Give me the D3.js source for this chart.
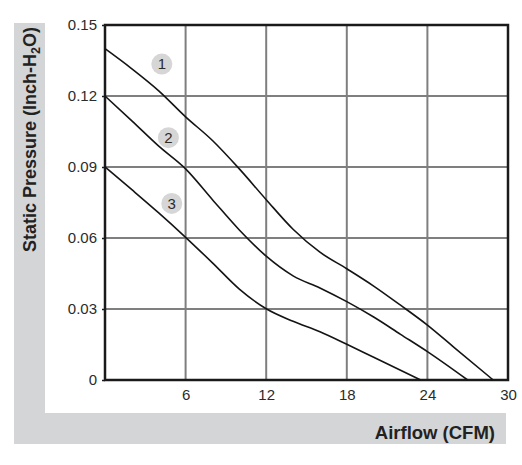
<!DOCTYPE html>
<html>
<head>
<meta charset="utf-8">
<script src="https://cdn.jsdelivr.net/npm/d3@7"></script>
<style>
  body { margin: 0; background: #fff; }
  text { font-family: "Liberation Sans", Arial, sans-serif; }
</style>
</head>
<body>
<div id="wrapper"></div>
<script>
// data
const xTicks = [6, 12, 18, 24, 30]
const yTicks = [0, 0.03, 0.06, 0.09, 0.12, 0.15]

const curve1 = [[0,0.14],[2,0.1315],[4,0.1222],[6,0.1112],[8,0.1012],[10,0.0892],[12,0.0762],
  [14,0.0637],[16,0.054],[18,0.047],[20,0.0397],[22,0.0316],[24,0.0232],[26,0.0137],[28.9,0]]
const curve2 = [[0,0.12],[2,0.1095],[4,0.0988],[6,0.0892],[8,0.0762],[10,0.0634],[12,0.0523],
  [14,0.044],[16,0.0389],[18,0.0331],[20,0.0266],[22,0.0193],[24,0.012],[27,0]]
const curve3 = [[0,0.09],[2,0.0804],[4,0.0706],[6,0.0603],[8,0.0495],[10,0.0384],[12,0.0301],
  [14,0.0248],[16,0.0204],[18,0.0151],[20,0.0096],[22,0.0041],[23.5,0]]
const curves = [curve1, curve2, curve3]

const badges = [
  {label: "1", x: 4.23, y: 0.1335},
  {label: "2", x: 4.72, y: 0.1024},
  {label: "3", x: 4.97, y: 0.0746},
]

const xTitle = "Airflow (CFM)"

let dimensions = {
  width: 522,
  height: 465,
  margin: {top: 25, right: 14, bottom: 85, left: 105},
}
dimensions.boundedWidth = dimensions.width - dimensions.margin.left - dimensions.margin.right
dimensions.boundedHeight = dimensions.height - dimensions.margin.top - dimensions.margin.bottom

const svg = d3.select("#wrapper").append("svg")
    .attr("width", dimensions.width)
    .attr("height", dimensions.height)

// grey L-shaped title bands
svg.append("rect")
    .attr("x", 14).attr("y", 23).attr("width", 31).attr("height", 421)
    .attr("fill", "#d4d5d6")
svg.append("rect")
    .attr("x", 14).attr("y", 413).attr("width", 492).attr("height", 31)
    .attr("fill", "#d4d5d6")

const bounds = svg.append("g")
    .attr("transform", `translate(${dimensions.margin.left},${dimensions.margin.top})`)

const xScale = d3.scaleLinear()
    .domain([0, 30])
    .range([0, dimensions.boundedWidth])

const yScale = d3.scaleLinear()
    .domain([0, 0.15])
    .range([dimensions.boundedHeight, 0])

// grid
bounds.selectAll(".vgrid")
    .data(xTicks.slice(0, -1)).enter().append("line")
        .attr("x1", d => xScale(d)).attr("x2", d => xScale(d))
        .attr("y1", 0).attr("y2", dimensions.boundedHeight)
        .attr("stroke", "#7f7f7f").attr("stroke-width", 2)
bounds.selectAll(".hgrid")
    .data(yTicks.slice(1, -1)).enter().append("line")
        .attr("x1", 0).attr("x2", dimensions.boundedWidth)
        .attr("y1", d => yScale(d)).attr("y2", d => yScale(d))
        .attr("stroke", "#7f7f7f").attr("stroke-width", 2)

// frame
bounds.append("rect")
    .attr("width", dimensions.boundedWidth)
    .attr("height", dimensions.boundedHeight)
    .attr("fill", "none")
    .attr("stroke", "#1a1a1a")
    .attr("stroke-width", 2.5)

// axes (labels only)
const xAxis = bounds.append("g")
    .attr("transform", `translate(0,${dimensions.boundedHeight})`)
    .call(d3.axisBottom(xScale).tickValues(xTicks).tickSize(0).tickPadding(9).tickFormat(d3.format("d")))
const yAxis = bounds.append("g")
    .call(d3.axisLeft(yScale).tickValues(yTicks).tickSize(3).tickPadding(5)
      .tickFormat(d => d === 0 ? "0" : d3.format(".2f")(d)))

bounds.selectAll(".domain").remove()
yAxis.selectAll(".tick line").attr("stroke", "#1a1a1a").attr("stroke-width", 1.5)
bounds.selectAll(".tick text")
    .attr("font-size", 15)
    .attr("fill", "#2b2b2b")
    .style("font-family", "'Liberation Sans', Arial, sans-serif")

// curves
const line = d3.line()
    .x(d => xScale(d[0]))
    .y(d => yScale(d[1]))
    .curve(d3.curveMonotoneX)

bounds.selectAll(".curve")
    .data(curves).enter().append("path")
        .attr("d", line)
        .attr("fill", "none")
        .attr("stroke", "#141414")
        .attr("stroke-width", 1.6)

// numbered badges
const badge = bounds.selectAll(".badge")
    .data(badges).enter().append("g")
        .attr("transform", d => `translate(${xScale(d.x)},${yScale(d.y)})`)
badge.append("circle")
    .attr("r", 10.5)
    .attr("fill", "#d6d6d6")
badge.append("text")
    .attr("text-anchor", "middle")
    .attr("dy", "0.36em")
    .attr("font-size", 15)
    .attr("fill", "#2b2b2b")
    .text(d => d.label)

// titles
svg.append("text")
    .attr("x", 495).attr("y", 439)
    .attr("text-anchor", "end")
    .attr("font-size", 18.5)
    .attr("font-weight", "bold")
    .attr("fill", "#222")
    .text(xTitle)

const yTitle = svg.append("text")
    .attr("transform", "translate(36,27) rotate(-90)")
    .attr("text-anchor", "end")
    .attr("font-size", 18)
    .attr("font-weight", "bold")
    .attr("fill", "#222")
yTitle.append("tspan").text("Static Pressure (Inch-H")
yTitle.append("tspan").attr("font-size", 12.5).attr("dy", 4).text("2")
yTitle.append("tspan").attr("dy", -4).text("O)")
</script>
</body>
</html>
